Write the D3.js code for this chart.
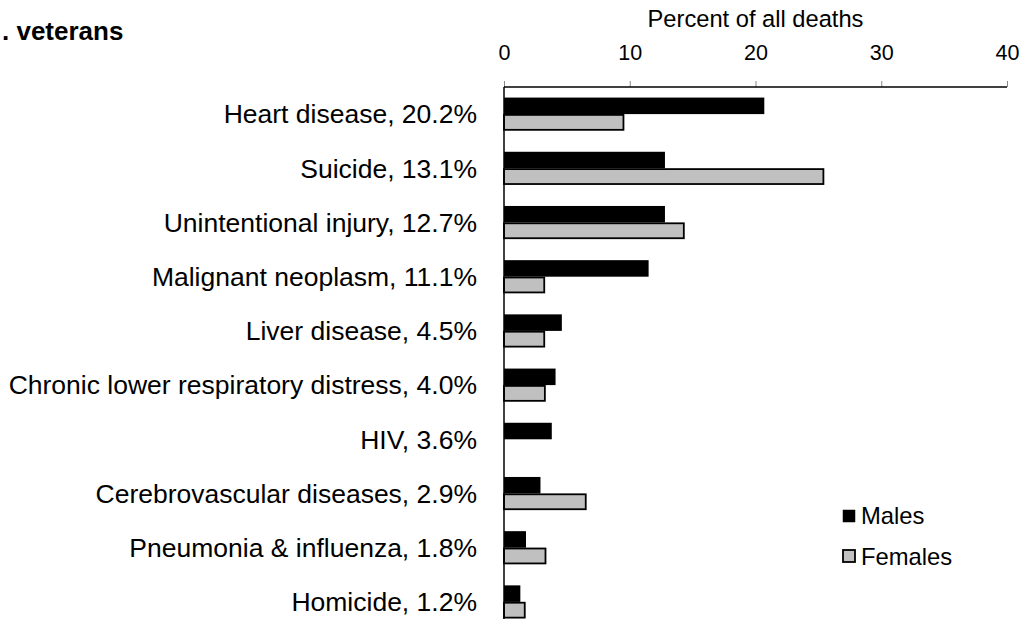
<!DOCTYPE html>
<html lang="en">
<head>
<meta charset="utf-8">
<script src="https://d3js.org/d3.v7.min.js"></script>
<style>
  body { margin: 0; background: #fff; }
  text { font-family: "Liberation Sans", Arial, sans-serif; fill: #000; }
</style>
</head>
<body>
<div id="my_dataviz"></div>
<script>

    // data
    var causes = ["Heart disease, 20.2%", "Suicide, 13.1%", "Unintentional injury, 12.7%",
                  "Malignant neoplasm, 11.1%", "Liver disease, 4.5%",
                  "Chronic lower respiratory distress, 4.0%", "HIV, 3.6%",
                  "Cerebrovascular diseases, 2.9%", "Pneumonia & influenza, 1.8%", "Homicide, 1.2%"];
    var males   = [20.7, 12.8, 12.8, 11.5, 4.6, 4.1, 3.8, 2.9, 1.75, 1.3];
    var females = [9.5, 25.4, 14.3, 3.2, 3.2, 3.25, 0, 6.5, 3.3, 1.65];
    var seriesNames = ["Males", "Females"];
    var xTicks = [0, 10, 20, 30, 40];

    var W = 1019, H = 619;
    var margin = {top: 87, left: 504, right: 12};

    var svg = d3.select("#my_dataviz")
      .append("svg")
        .attr("width", W)
        .attr("height", H);

    // scales
    var x = d3.scaleLinear()
      .domain([0, 40])
      .range([margin.left, W - margin.right]);

    var y = d3.scaleBand()
      .domain(causes)
      .range([margin.top, margin.top + 10 * 54.2])
      .paddingInner(0.39)
      .paddingOuter(0.195);

    var ySub = d3.scaleBand()
      .domain(seriesNames)
      .range([0, y.bandwidth()])
      .padding(0);

    var fill = {Males: "#000000", Females: "#c0c0c0"};

    var rows = causes.map(function(c, i) {
      return {cause: c, values: [{s: "Males", v: males[i]}, {s: "Females", v: females[i]}]};
    });

    // bars
    var groups = svg.append("g")
      .selectAll("g")
      .data(rows)
      .enter()
      .append("g")
        .attr("transform", function(d) { return "translate(0," + y(d.cause) + ")"; });

    groups.selectAll("rect")
      .data(function(d) { return d.values.filter(function(e) { return e.v > 0; }); })
      .enter()
      .append("rect")
        .attr("x", x(0))
        .attr("y", function(d) { return ySub(d.s) + (d.s == "Females" ? 0.8 : 0); })
        .attr("width", function(d) { return x(d.v) - x(0); })
        .attr("height", function(d) { return ySub.bandwidth() - (d.s == "Females" ? 1.6 : 0); })
        .style("fill", function(d) { return fill[d.s]; })
        .style("stroke", "#000")
        .style("stroke-width", function(d) { return d.s == "Females" ? 1.8 : 0; });

    // top axis
    var xAxis = svg.append("g")
      .attr("transform", "translate(0," + margin.top + ")")
      .call(d3.axisTop(x).tickValues(xTicks).tickSize(6).tickPadding(21));
    xAxis.select(".domain").remove();
    xAxis.selectAll(".tick line").attr("stroke", "#888").attr("stroke-width", 1);
    xAxis.selectAll(".tick text")
      .style("font-family", '"Liberation Sans", Arial, sans-serif')
      .style("font-size", "21.5px");
    svg.append("line")
      .attr("x1", x(0)).attr("x2", x(40))
      .attr("y1", margin.top).attr("y2", margin.top)
      .attr("stroke", "#000").attr("stroke-width", 1.5);

    // left axis line
    svg.append("line")
      .attr("x1", x(0)).attr("x2", x(0))
      .attr("y1", margin.top).attr("y2", H)
      .attr("stroke", "#000").attr("stroke-width", 1.5);

    // category labels
    svg.append("g")
      .selectAll("text")
      .data(causes)
      .enter()
      .append("text")
        .attr("x", x(0) - 27)
        .attr("y", function(d) { return y(d) + y.bandwidth() / 2; })
        .attr("dy", "0.35em")
        .attr("text-anchor", "end")
        .style("font-size", "26.5px")
        .text(function(d) { return d; });

    // axis title
    svg.append("text")
      .attr("x", (x(0) + x(40)) / 2)
      .attr("y", 27)
      .attr("text-anchor", "middle")
      .style("font-size", "23.7px")
      .text("Percent of all deaths");

    // chart title (cut off at the left edge in the source)
    svg.append("text")
      .attr("x", 2)
      .attr("y", 40)
      .style("font-size", "26px")
      .style("font-weight", "bold")
      .text(". veterans");

    // legend
    var legend = svg.append("g");
    seriesNames.forEach(function(s, i) {
      legend.append("rect")
        .attr("x", 843).attr("y", 510 + i * 40)
        .attr("width", 12).attr("height", 12)
        .style("fill", fill[s])
        .style("stroke", "#000")
        .style("stroke-width", i == 1 ? 1.8 : 0.5);
      legend.append("text")
        .attr("x", 861).attr("y", 523.5 + i * 41.5)
        .style("font-size", "23.8px")
        .text(s);
    });

</script>
</body>
</html>
